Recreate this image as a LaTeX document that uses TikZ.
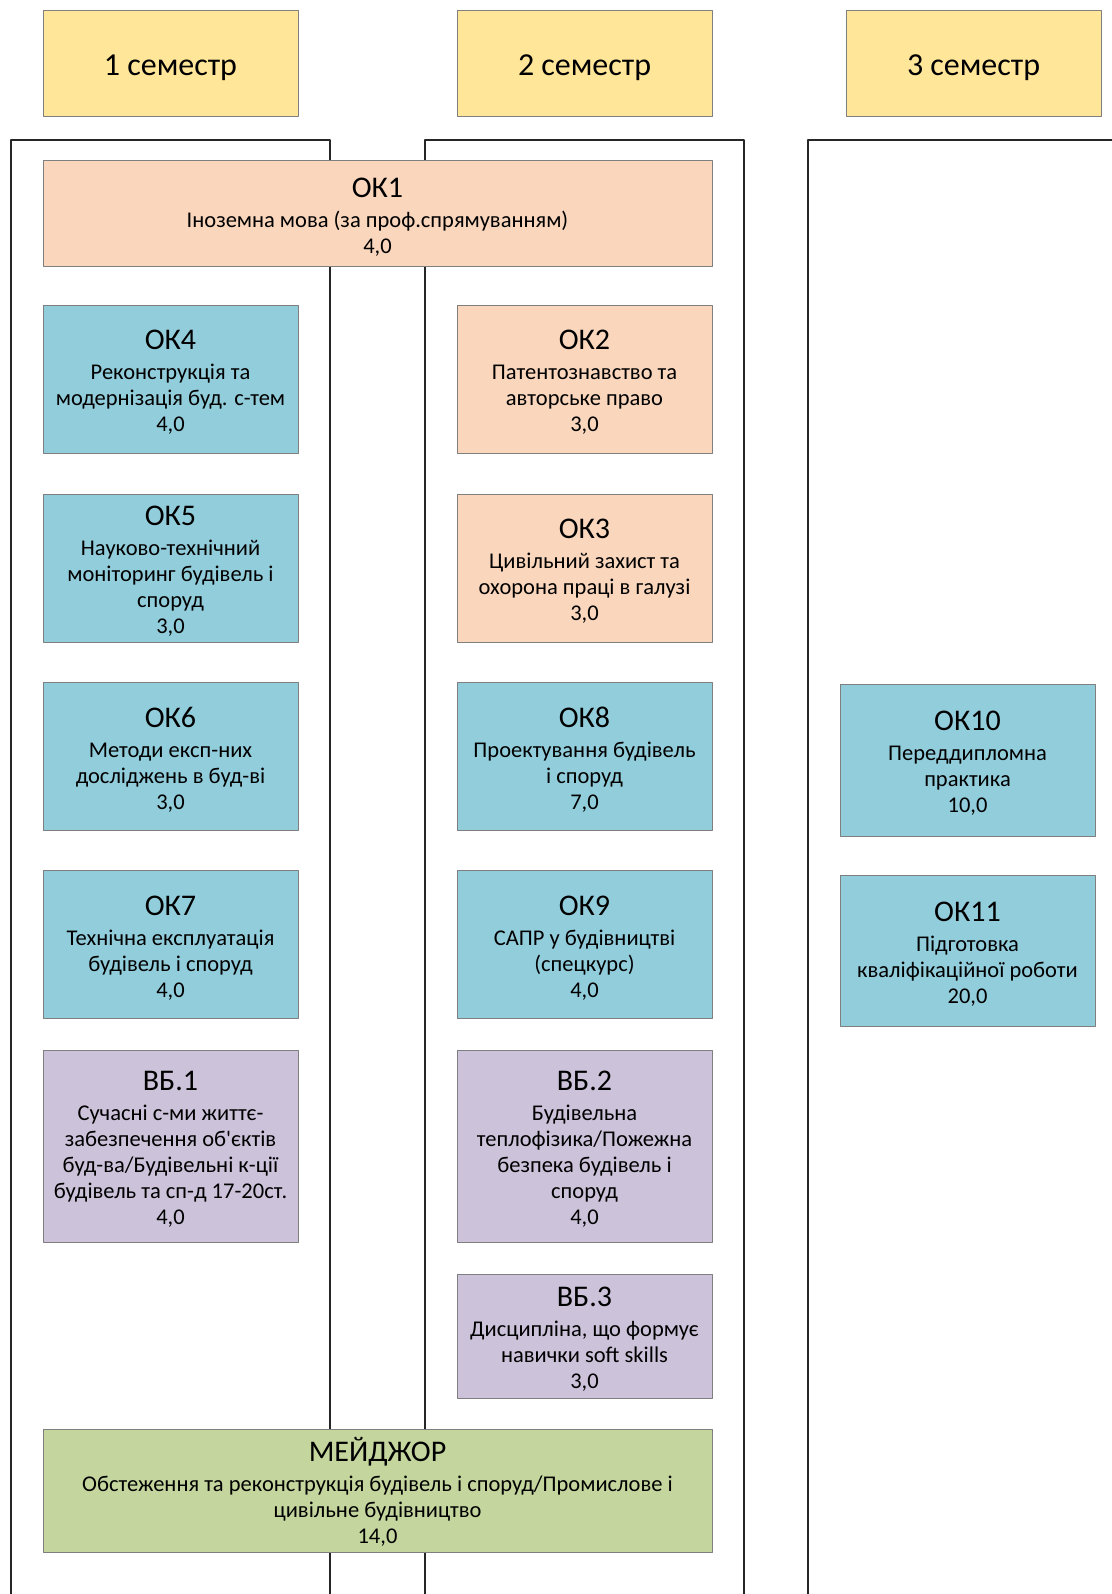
\documentclass[tikz,border=0pt]{standalone}
\usepackage{fontspec}
\setmainfont{Carlito}
\definecolor{semcol}{HTML}{FFE699}
\definecolor{gencol}{HTML}{F9D6BC}
\definecolor{okcol}{HTML}{92CDDC}
\definecolor{vbcol}{HTML}{CCC2DA}
\definecolor{majcol}{HTML}{C4D69E}
\definecolor{cardline}{HTML}{7F7F7F}
\definecolor{framecol}{HTML}{262626}
\newcommand{\ttl}[1]{{\fontsize{15}{18}\selectfont\rule{0pt}{13pt}#1}}
\begin{document}
\begin{tikzpicture}[x=0.5pt,y=-0.5pt,line join=round,
	font=\fontsize{11.25}{13}\selectfont,
	colframe/.style={draw=framecol,line width=1pt},
	card/.style={draw=cardline,line width=0.5pt,align=center,inner sep=0pt,minimum width=127.5pt,minimum height=74pt},
	sem/.style={card,fill=semcol,minimum height=53pt,font=\fontsize{16}{19}\selectfont},
	gen/.style={card,fill=gencol},
	ok/.style={card,fill=okcol},
	vb/.style={card,fill=vbcol},
	maj/.style={card,fill=majcol,minimum width=334.5pt,minimum height=61.5pt}]
		\useasboundingbox (0,0) rectangle (1112,1594);
		\fill[white] (0,0) rectangle (1112,1594);
		\draw[colframe] (11,1594) |- (330,140) -- (330,1594);
		\draw[colframe] (425,1594) |- (744,140) -- (744,1594);
		\draw[colframe] (808,1594) |- (1112,140);
		\node[sem] (s1) at (170.5,64) {\rule{0pt}{14pt}1 семестр};
		\node[sem] (s2) at (584.5,64) {\rule{0pt}{14pt}2 семестр};
		\node[sem] (s3) at (973.5,64) {\rule{0pt}{14pt}3 семестр};
		\node[gen,minimum width=334.5pt,minimum height=52.5pt] (ok1) at (377.5,213.5) {\ttl{ОК1}\\[2pt]Іноземна мова (за проф.спрямуванням)\\4,0};
		\node[ok] (ok4) at (170.5,379) {\ttl{ОК4}\\[2pt]Реконструкція та\\модернізація буд. с-тем\\4,0};
		\node[gen] (ok2) at (584.5,379) {\ttl{ОК2}\\[2pt]Патентознавство та\\авторське право\\3,0};
		\node[ok] (ok5) at (170.5,568) {\ttl{ОК5}\\[2pt]Науково-технічний\\моніторинг будівель і\\споруд\\3,0};
		\node[gen] (ok3) at (584.5,568) {\ttl{ОК3}\\[2pt]Цивільний захист та\\охорона праці в галузі\\3,0};
		\node[ok] (ok6) at (170.5,756.5) {\ttl{ОК6}\\[2pt]Методи експ-них\\досліджень в буд-ві\\3,0};
		\node[ok] (ok8) at (584.5,756.5) {\ttl{ОК8}\\[2pt]Проектування будівель\\і споруд\\7,0};
		\node[ok] (ok7) at (170.5,944.5) {\ttl{ОК7}\\[2pt]Технічна експлуатація\\будівель і споруд\\4,0};
		\node[ok] (ok9) at (584.5,944.5) {\ttl{ОК9}\\[2pt]САПР у будівництві\\(спецкурс)\\4,0};
		\node[vb,minimum height=96pt] (vb1) at (170.5,1146) {\ttl{ВБ.1}\\[2pt]Сучасні с-ми життє-\\забезпечення об\textquotesingle єктів\\буд-ва/Будівельні к-ції\\будівель та сп-д 17-20ст.\\4,0};
		\node[vb,minimum height=96pt] (vb2) at (584.5,1146) {\ttl{ВБ.2}\\[2pt]Будівельна\\теплофізика/Пожежна\\безпека будівель і\\споруд\\4,0};
		\node[vb,minimum height=62pt] (vb3) at (584.5,1336) {\ttl{ВБ.3}\\[2pt]Дисципліна, що формує\\навички soft skills\\3,0};
		\node[maj] (major) at (377.5,1490.5) {\ttl{МЕЙДЖОР}\\[2pt]Обстеження та реконструкція будівель і споруд/Промислове і\\цивільне будівництво\\14,0};
		\node[ok,minimum height=76pt] (ok10) at (967.5,760) {\ttl{ОК10}\\[2pt]Переддипломна\\практика\\10,0};
		\node[ok,minimum height=75.5pt] (ok11) at (967.5,950.5) {\ttl{ОК11}\\[2pt]Підготовка\\кваліфікаційної роботи\\20,0};
\end{tikzpicture}
\end{document}
